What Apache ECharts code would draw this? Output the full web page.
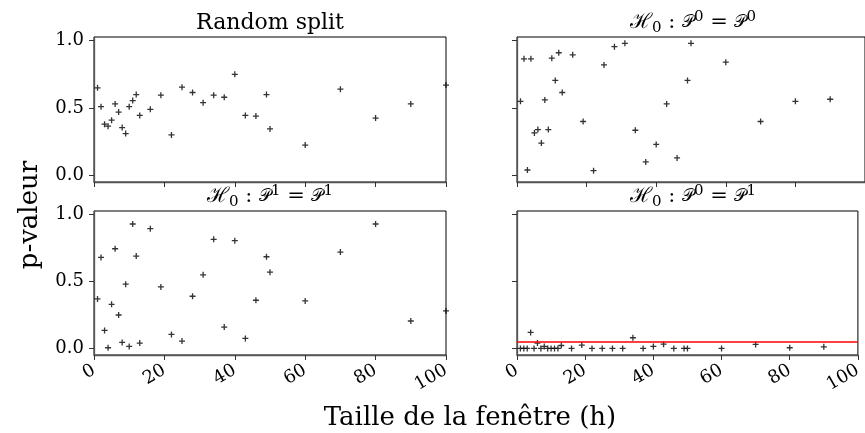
<!DOCTYPE html>
<html>
<head>
<meta charset="utf-8">
<script src="https://cdn.jsdelivr.net/npm/echarts@6/dist/echarts.min.js"></script>
<style>
  html, body { margin: 0; padding: 0; background: #fff; }
  #chart { width: 865px; height: 433px; }
</style>
</head>
<body>
<div id="chart"></div>
<script>
// ---- data ----
var windowSizes = [1,2,3,4,5,6,7,8,9,10,11,12,13,16,19,22,25,28,31,34,37,40,43,46,49,50,60,70,80,90,100];
var xTicks = [0,20,40,60,80,100];
var yTicks = [0,0.5,1.0];
var threshold = 0.05;

var randomSplit = [0.65,0.51,0.38,0.365,0.41,0.53,0.47,0.355,0.31,0.51,0.555,0.60,0.445,0.49,0.595,0.30,0.655,0.615,0.54,0.595,0.58,0.75,0.445,0.44,0.60,0.345,0.225,0.64,0.425,0.53,0.67];
var h0P0P0 = [0.55,0.865,0.04,0.865,0.315,0.34,0.24,0.56,0.34,0.87,0.705,0.91,0.615,0.895,0.40,0.035,0.82,0.955,0.98,0.335,0.10,0.23,0.53,0.13,0.705,0.98,0.84,0.40,0.55,0.565];
var h0P1P1 = [0.37,0.68,0.135,0.005,0.33,0.745,0.25,0.045,0.48,0.015,0.93,0.69,0.04,0.895,0.46,0.105,0.055,0.39,0.55,0.815,0.16,0.805,0.075,0.36,0.685,0.57,0.355,0.72,0.93,0.205,0.28];
var h0P0P1 = [0.0,0.0,0.0,0.12,0.0,0.04,0.0,0.015,0.0,0.0,0.0,0.0,0.022,0.0,0.025,0.0,0.0,0.0,0.0,0.08,0.0,0.015,0.032,0.0,0.0,0.0,0.0,0.03,0.005,0.012];

var plainTitle = 'Random split';
var supPairs = [['0','0'], ['1','1'], ['0','1']];

// ---- layout ----
var SERIF = '"DejaVu Serif", "Liberation Serif", serif';
var grids = [
  {left: 94, top: 37, width: 352, height: 145},
  {left: 517, top: 37, width: 352, height: 145},
  {left: 94, top: 211, width: 352, height: 144},
  {left: 517, top: 211, width: 352, height: 144}
];

function pairs(vals) {
  return vals.map(function (v, i) { return [windowSizes[i], v]; });
}

var plusSymbol = 'path://M0,5L10,5M5,0L5,10';

var xAxes = [], yAxes = [], series = [];
var allVals = [randomSplit, h0P0P0, h0P1P1, h0P0P1];
for (var i = 0; i < 4; i++) {
  var bottomRow = i >= 2;
  var leftCol = (i % 2) === 0;
  xAxes.push({
    type: 'value', gridIndex: i, min: 0, max: 100, interval: 20,
    axisLine: {show: true, onZero: false, lineStyle: {color: '#555', width: 1.3}},
    axisTick: {show: true, inside: false, length: 5, lineStyle: {color: '#333', width: 1}},
    axisLabel: {show: bottomRow, rotate: 30, margin: 14, color: '#000', fontSize: 18, fontFamily: SERIF,
      customValues: xTicks},
    splitLine: {show: false}
  });
  yAxes.push({
    type: 'value', gridIndex: i, min: -0.049, max: 1.027,
    axisLine: {show: true, onZero: false, lineStyle: {color: '#555', width: 1.3}},
    axisTick: {show: true, inside: false, length: 5, lineStyle: {color: '#333', width: 1}, customValues: yTicks},
    axisLabel: {show: leftCol, margin: 10, color: '#000', fontSize: 18, fontFamily: SERIF,
      customValues: yTicks, formatter: function (v) { return v.toFixed(1); }},
    splitLine: {show: false}
  });
  var s = {
    type: 'scatter', xAxisIndex: i, yAxisIndex: i,
    data: pairs(allVals[i]),
    symbol: plusSymbol, symbolSize: 6,
    itemStyle: {color: 'rgba(0,0,0,0)', borderColor: '#000', borderWidth: 1.3},
    emphasis: {disabled: true},
    silent: true, clip: true
  };
  if (i === 3) {
    s.markLine = {
      silent: true, symbol: 'none', animation: false,
      label: {show: false},
      lineStyle: {color: '#ff0000', width: 1.5, type: 'solid'},
      data: [{yAxis: threshold}]
    };
  }
  series.push(s);
}

var gridOpts = grids.map(function (g) {
  return Object.assign({show: true, borderColor: '#000', borderWidth: 1, backgroundColor: 'rgba(0,0,0,0)'}, g);
});

function mathTitle(p) {
  return '{s|\u210B}{sub|0}{n| : }{p|\uD835\uDCAB}{sup|' + p[0] + '}{n| = }{p|\uD835\uDCAB}{sup|' + p[1] + '}';
}
var rich = {
  s: {fontSize: 21, fontFamily: SERIF, lineHeight: 26, fill: '#000'},
  p: {fontSize: 17, fontFamily: SERIF, lineHeight: 26, fill: '#000'},
  n: {fontSize: 21, fontFamily: SERIF, lineHeight: 26, fill: '#000'},
  sup: {fontSize: 15, fontFamily: SERIF, lineHeight: 19, verticalAlign: 'top', fill: '#000'},
  sub: {fontSize: 15, fontFamily: SERIF, lineHeight: 18, verticalAlign: 'bottom', fill: '#000'}
};

var graphics = [
  {type: 'text', x: 270, y: 23, style: {text: plainTitle, fontSize: 22, fontFamily: SERIF, fill: '#000', align: 'center', verticalAlign: 'middle'}},
  {type: 'text', x: 693, y: 23, style: {text: mathTitle(supPairs[0]), rich: rich, fill: '#000', align: 'center', verticalAlign: 'middle'}},
  {type: 'text', x: 270, y: 197, style: {text: mathTitle(supPairs[1]), rich: rich, fill: '#000', align: 'center', verticalAlign: 'middle'}},
  {type: 'text', x: 693, y: 197, style: {text: mathTitle(supPairs[2]), rich: rich, fill: '#000', align: 'center', verticalAlign: 'middle'}},
  {type: 'text', x: 470, y: 418, style: {text: 'Taille de la fenêtre (h)', fontSize: 26, fontFamily: SERIF, fill: '#000', align: 'center', verticalAlign: 'middle'}},
  {type: 'text', x: 30, y: 215, rotation: Math.PI / 2, style: {text: 'p-valeur', fontSize: 26, fontFamily: SERIF, fill: '#000', align: 'center', verticalAlign: 'middle'}}
];

var chart = echarts.init(document.getElementById('chart'), null, {renderer: 'canvas'});
chart.setOption({
  animation: false,
  backgroundColor: '#fff',
  grid: gridOpts,
  xAxis: xAxes,
  yAxis: yAxes,
  series: series,
  graphic: graphics
});
</script>
</body>
</html>
